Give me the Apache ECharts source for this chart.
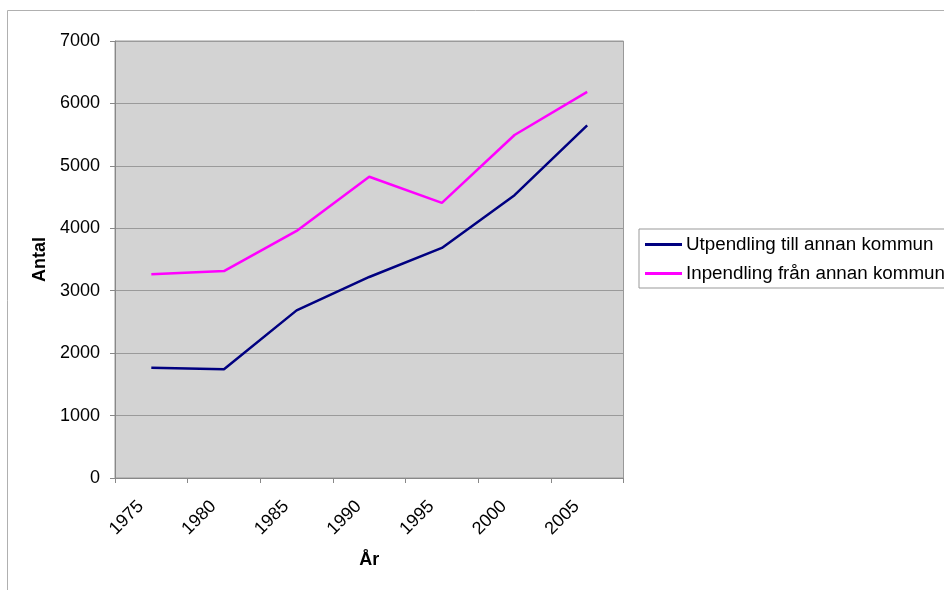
<!DOCTYPE html>
<html>
<head>
<meta charset="utf-8">
<script src="https://cdn.jsdelivr.net/npm/echarts@6/dist/echarts.min.js"></script>
<style>html,body{margin:0;padding:0;background:#fff}#c{width:944px;height:590px}</style>
</head>
<body>
<div id="c"></div>
<script>
const years = ['1975','1980','1985','1990','1995','2000','2005'];
const utpendling = [1766, 1743, 2685, 3220, 3685, 4531, 5650];
const inpendling = [3263, 3314, 3958, 4825, 4408, 5494, 6185];
const seriesNames = ['Utpendling till annan kommun', 'Inpendling från annan kommun'];
const yTicks = {min: 0, max: 7000, interval: 1000};

const font = 'Liberation Sans, Arial, sans-serif';
const chart = echarts.init(document.getElementById('c'), null, {renderer: 'canvas'});
chart.setOption({
  animation: false,
  backgroundColor: '#fff',
  textStyle: {fontFamily: font},
  graphic: [{
    type: 'polyline',
    shape: {points: [[944, 10.5], [7.5, 10.5], [7.5, 590]]},
    style: {stroke: '#b0b0b0', lineWidth: 1, fill: null},
    silent: true
  }],
  grid: {
    left: 115, top: 41, right: 320.5, bottom: 112,
    show: true, backgroundColor: '#d3d3d3', borderColor: '#999', borderWidth: 1
  },
  legend: {
    orient: 'vertical',
    left: 639, top: 229,
    width: 400,
    padding: [6, 14, 5, 6],
    itemGap: 10,
    itemWidth: 37, itemHeight: 3,
    icon: 'rect',
    borderColor: '#999', borderWidth: 1,
    backgroundColor: '#fff',
    textStyle: {fontFamily: font, fontSize: 18.8, color: '#000', padding: [0, 0, 0, -1]},
    data: seriesNames
  },
  xAxis: {
    type: 'category',
    data: years,
    boundaryGap: true,
    name: 'År',
    nameLocation: 'middle',
    nameGap: 73,
    nameTextStyle: {fontFamily: font, fontSize: 18, fontWeight: 'bold', color: '#000'},
    axisLine: {lineStyle: {color: '#888', width: 1}},
    axisTick: {show: true, length: 5, lineStyle: {color: '#888'}},
    axisLabel: {rotate: 45, fontSize: 18, color: '#000', margin: 15, padding: [0, 15, 0, 0], fontFamily: font},
    splitLine: {show: false}
  },
  yAxis: {
    type: 'value',
    min: yTicks.min, max: yTicks.max, interval: yTicks.interval,
    name: 'Antal',
    nameLocation: 'middle',
    nameGap: 66,
    nameTextStyle: {fontFamily: font, fontSize: 18, fontWeight: 'bold', color: '#000'},
    axisLine: {show: true, lineStyle: {color: '#888', width: 1}},
    axisTick: {show: true, length: 5, lineStyle: {color: '#888'}},
    axisLabel: {fontSize: 18, color: '#000', margin: 15, fontFamily: font, formatter: v => String(v)},
    splitLine: {show: true, lineStyle: {color: '#9a9a9a', width: 1}}
  },
  series: [
    {name: seriesNames[0], type: 'line', data: utpendling, symbol: 'none',
     lineStyle: {color: '#000080', width: 2.5}, itemStyle: {color: '#000080'}},
    {name: seriesNames[1], type: 'line', data: inpendling, symbol: 'none',
     lineStyle: {color: '#ff00ff', width: 2.5}, itemStyle: {color: '#ff00ff'}}
  ]
});
</script>
</body>
</html>
